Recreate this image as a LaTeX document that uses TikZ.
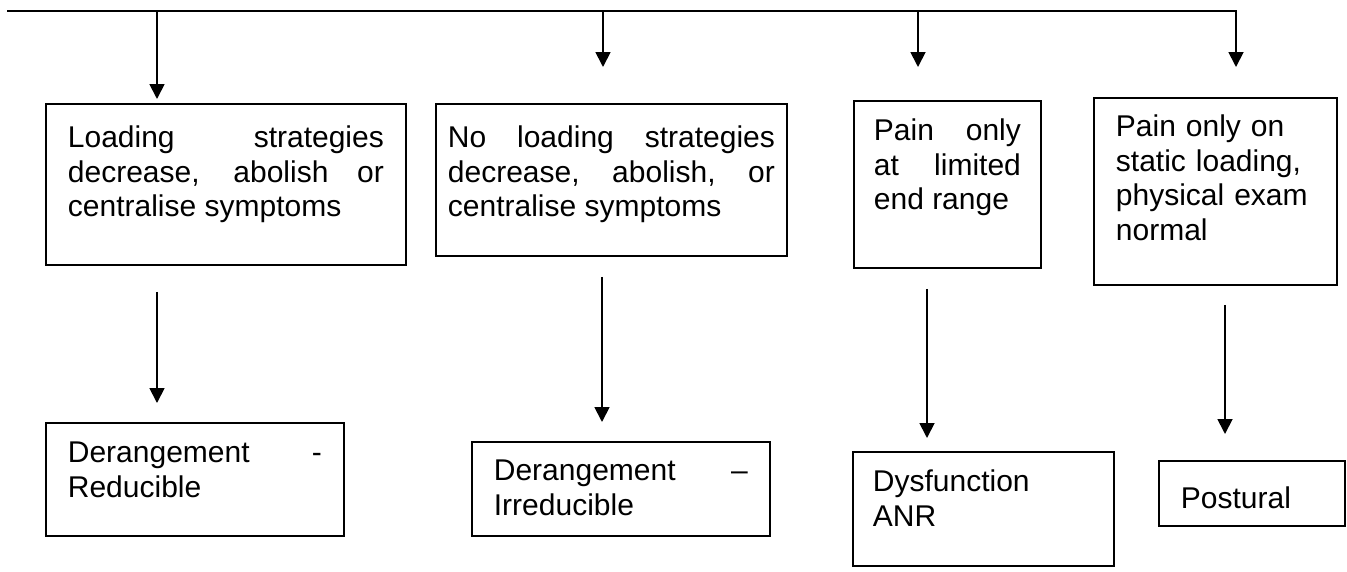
\documentclass[tikz,border=0pt]{standalone}
\usepackage{fontspec}
\setmainfont{Liberation Sans}
\usetikzlibrary{arrows.meta}

\tikzset{
  crit/.style={rectangle, draw=black, line width=1.8pt, anchor=north west, inner xsep=22pt, inner ysep=0pt, align=justify, text height=40pt, font=\fontsize{30}{34.5}\selectfont},
  flow/.style={line width=1.8pt, -{Triangle[width=15pt,length=15pt]}},
}

\begin{document}
\begin{tikzpicture}[x=1pt,y=-1pt]
  \useasboundingbox (0,0) rectangle (1347,571);

  % first row
  \node (load) [crit, text width=316pt, text height=44pt, text depth=117pt] at (45,103) {Loading strategies\linebreak decrease, abolish or\linebreak centralise symptoms};
  \node (noload) [crit, inner xsep=12pt, text width=327pt, text height=44pt, text depth=108pt] at (435,103) {No loading strategies\linebreak decrease, abolish, or\linebreak centralise symptoms};
  \node (endrange) [crit, inner xsep=20pt, text width=147pt, text depth=127pt] at (853,100) {Pain only\linebreak at limited\linebreak end range};
  \node (static) [crit, align=left, text width=199pt, text height=39pt, text depth=148pt] at (1093,97) {Pain only on\\static loading,\\physical exam\\normal};

  % second row
  \node (red) [crit, text width=254pt, text depth=73pt] at (45,422) {Derangement \hfill -\\Reducible};
  \node (irred) [crit, text width=254pt, text height=39pt, text depth=55pt] at (471,441) {Derangement \hfill \textendash\\Irreducible};
  \node (dysf) [crit, align=left, inner xsep=20pt, text width=221pt, text depth=74pt] at (852,451) {Dysfunction\\ANR};
  \node (post) [crit, align=left, text width=142pt, text height=48pt, text depth=17pt] at (1158,460) {Postural};

  \coordinate (bar) at (7,11);
  \coordinate (in1) at ([xshift=112pt,yshift=4pt]load.north west);
  \coordinate (in2) at ([xshift=168pt,yshift=36pt]noload.north west);
  \coordinate (in3) at ([xshift=65pt,yshift=33pt]endrange.north west);
  \coordinate (in4) at ([xshift=143pt,yshift=30pt]static.north west);

  \draw [flow] (bar) -| (in4);
  \draw [flow] (bar -| in1) -- (in1);
  \draw [flow] (bar -| in2) -- (in2);
  \draw [flow] (bar -| in3) -- (in3);

  \draw [flow] ([xshift=112pt,yshift=-26pt]load.south west) -- ([xshift=112pt,yshift=19pt]red.north west);
  \draw [flow] ([xshift=167pt,yshift=-20pt]noload.south west) -- ([xshift=131pt,yshift=19pt]irred.north west);
  \draw [flow] ([xshift=74pt,yshift=-20pt]endrange.south west) -- ([xshift=75pt,yshift=13pt]dysf.north west);
  \draw [flow] ([xshift=132pt,yshift=-19pt]static.south west) -- ([xshift=67pt,yshift=26pt]post.north west);
\end{tikzpicture}
\end{document}
